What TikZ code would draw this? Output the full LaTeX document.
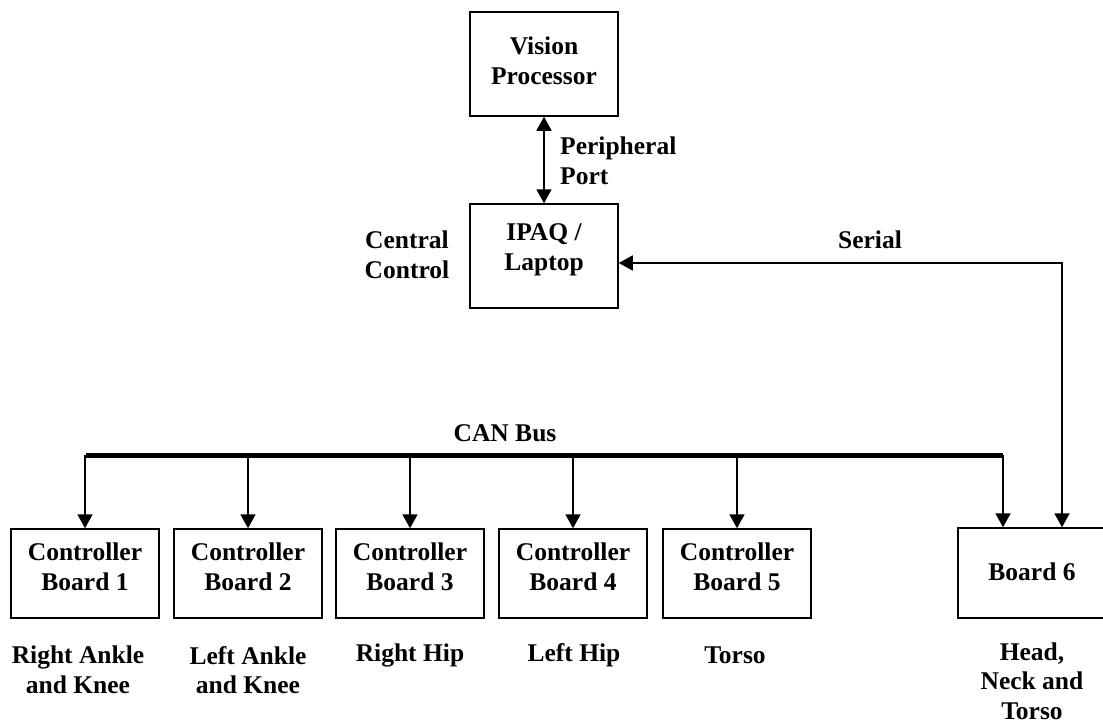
\documentclass[tikz,border=0pt]{standalone}
\usepackage{fontspec}
\setmainfont{Liberation Serif}
\usetikzlibrary{arrows.meta}
\begin{document}
\begin{tikzpicture}[x=1pt,y=-1pt,
  frame/.style={draw, line width=1.5pt, minimum width=148pt, inner sep=0pt},
  txt/.style={font=\bfseries\fontsize{25.5}{29.5}\selectfont, align=center, inner sep=0pt},
  link/.style={line width=1.8pt},
  tip/.style={-{Triangle[length=14pt,width=15pt]}},
  dtip/.style={{Triangle[length=14pt,width=15pt]}-{Triangle[length=14pt,width=15pt]}},
  bus/.style={line width=5pt}]
\useasboundingbox (0,0) rectangle (1103,725);

% central units
\node[frame, minimum height=104pt] (vp) at (544,64) {};
\node[txt] (vpt) at (544,61) {Vision\\Processor};
\node[frame, minimum height=104pt] (ipaq) at (544,256) {};
\node[txt] (ipaqt) at (544,250) {IPAQ /\\Laptop};

% controller boards on the bus
\node[frame, minimum height=89pt] (b1) at (85,573.5) {};
\node[frame, minimum height=89pt] (b2) at (248,573.5) {};
\node[frame, minimum height=89pt] (b3) at (410,573.5) {};
\node[frame, minimum height=89pt] (b4) at (573,573.5) {};
\node[frame, minimum height=89pt] (b5) at (737,573.5) {};
\begin{scope}
  % the sixth board runs past the right edge of the sheet
  \clip (0,0) rectangle (1103,725);
  \node[frame, minimum height=90pt] (b6) at (1032,573) {};
\end{scope}
\node[txt] (b1t) at (85,567) {Controller\\Board 1};
\node[txt] (b2t) at (248,567) {Controller\\Board 2};
\node[txt] (b3t) at (410,567) {Controller\\Board 3};
\node[txt] (b4t) at (573,567) {Controller\\Board 4};
\node[txt] (b5t) at (737,567) {Controller\\Board 5};
\node[txt] (b6t) at (1032,572) {Board 6};

% labels
\node[txt, align=left, anchor=west] (pp) at (560,161) {Peripheral\\Port};
\node[txt] (cc) at (407,255) {Central\\Control};
\node[txt] (ser) at (870,240) {Serial};
\node[txt] (can) at (505,433) {CAN Bus};
\node[txt] (l1) at (78,670) {Right Ankle\\and Knee};
\node[txt] (l2) at (248,670) {Left Ankle\\and Knee};
\node[txt] (l3) at (410,655) {Right Hip};
\node[txt] (l4) at (574,655) {Left Hip};
\node[txt] (l5) at (735,655) {Torso};
\node[txt] (l6) at (1032,681) {Head,\\Neck and\\Torso};

% links
\coordinate (sc) at (1062,263);
\coordinate (bs) at (86,455);
\coordinate (be) at (1003,455);
\draw[link, dtip] (vp.south) -- (ipaq.north);
\draw[link, dtip, line join=miter] (ipaq.east |- sc) -- (sc) -- (b6.north -| sc);
\draw[bus] (bs) -- (be);
\draw[link, tip] (be) -- (b6.north -| be);
\foreach \b in {b1,b2,b3,b4,b5}
  \draw[link, tip] (\b.north |- bs) -- (\b.north);
\end{tikzpicture}
\end{document}
